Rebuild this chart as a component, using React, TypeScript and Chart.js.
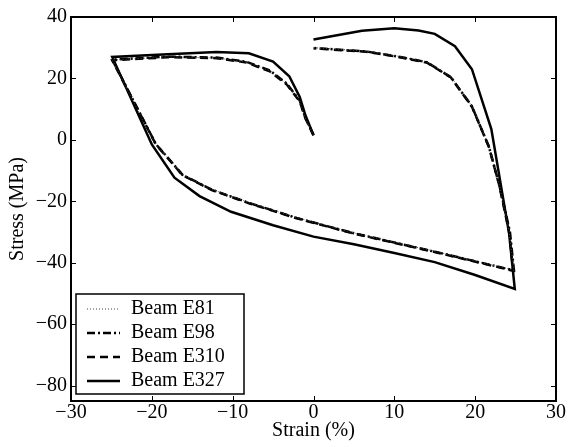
import { useEffect, useRef } from 'react';
import { Chart, registerables } from 'chart.js';

Chart.register(...registerables);

const FONT = 'Liberation Serif';

const seriesNames = ['Beam E81', 'Beam E98', 'Beam E310', 'Beam E327'];

const xTicks = [-30, -20, -10, 0, 10, 20, 30];
const yTicks = [-80, -60, -40, -20, 0, 20, 40];

// Beam E81 (dotted, mostly hidden under the other curves)
const strainE81 = [0, -1, -1.7, -3.3, -5.4, -8.3, -12, -18, -24.9, -19.6, -17.8, -16.2, -12.5, -7.9, -2.1, 0, 5, 10, 15, 19, 24.8, 24.2, 23, 21.7, 19.6, 17, 14, 10.5, 6.5, 0];
const stressE81 = [1.5, 7, 12.6, 18.2, 22.5, 25.3, 26.7, 27, 26, -1.3, -6.4, -11.3, -16.2, -20.5, -25.3, -26.8, -30.3, -33.3, -36.3, -38.8, -42.4, -29.8, -14.8, -2.1, 11, 20.5, 25.4, 27.2, 28.9, 30];

// Beam E98 (dash-dot)
const strainE98 = [0, -1, -1.7, -3.3, -5.4, -8.3, -12, -18, -24.9, -19.5, -17.8, -16.2, -12.5, -7.9, -2.1, 0, 5, 10, 15, 19, 24.8, 24.3, 23, 21.7, 19.6, 17, 14, 10.5, 6.5, 0];
const stressE98 = [1.6, 7.2, 12.8, 18.3, 22.6, 25.4, 26.8, 27.1, 26.1, -1.4, -6.5, -11.4, -16.3, -20.6, -25.4, -26.9, -30.4, -33.4, -36.4, -38.9, -42.5, -29.9, -14.9, -2.2, 10.9, 20.4, 25.3, 27.1, 28.8, 29.9];

// Beam E310 (dashed)
const strainE310 = [0, -1, -1.7, -3.3, -5.4, -8.3, -12, -18, -24.9, -19.5, -17.8, -16.2, -12.5, -7.9, -2.1, 0, 5, 10, 15, 19, 24.7, 24.2, 23, 21.7, 19.6, 17, 14, 10.5, 6.5, 0];
const stressE310 = [1.5, 7, 12.5, 18, 22.3, 25.2, 26.6, 26.9, 25.9, -1.5, -6.6, -11.5, -16.4, -20.7, -25.5, -27, -30.5, -33.5, -36.5, -39, -42.6, -30, -15, -2.3, 10.8, 20.3, 25.2, 27, 28.7, 29.8];

// Beam E327 (solid)
const strainE327 = [0, -1, -1.7, -3, -5, -8, -12, -18, -24.9, -20, -17.2, -14.1, -10.2, -5, 0, 5, 10, 15, 20, 24.9, 24.2, 22, 19.6, 17.5, 15, 13, 10, 6, 0];
const stressE327 = [1.5, 8, 14, 20.7, 25.5, 28.2, 28.6, 27.9, 27, -1.5, -12.3, -18.3, -23.4, -27.8, -31.5, -34, -36.8, -39.8, -44, -48.5, -30.5, 3.5, 23, 30.5, 34.5, 35.6, 36.3, 35.5, 32.7];

const styles = [
  { width: 1, dash: [1, 2], color: '#444' },
  { width: 2.5, dash: [8, 3, 2, 3], color: '#000' },
  { width: 2.5, dash: [8, 5], color: '#000' },
  { width: 2.5, dash: [] as number[], color: '#000' },
];

const toPts = (xs: number[], ys: number[]) => xs.map((x, i) => ({ x, y: ys[i] }));

const fmt = (v: number) => (v < 0 ? '\u2212' + String(-v) : String(v));

const framePlugin = {
  id: 'frame',
  afterDraw(chart: any) {
    const { ctx, chartArea } = chart;
    const { left, right, top, bottom } = chartArea;
    const xs = chart.scales.x;
    const ys = chart.scales.y;
    ctx.save();
    ctx.strokeStyle = '#000';
    ctx.lineWidth = 2;
    ctx.setLineDash([]);
    ctx.strokeRect(left, top, right - left, bottom - top);
    ctx.lineWidth = 1;
    const tl = 5;
    ctx.beginPath();
    xTicks.forEach((v) => {
      const px = Math.round(xs.getPixelForValue(v)) + 0.5;
      ctx.moveTo(px, bottom);
      ctx.lineTo(px, bottom - tl);
      ctx.moveTo(px, top);
      ctx.lineTo(px, top + tl);
    });
    yTicks.forEach((v) => {
      const py = Math.round(ys.getPixelForValue(v)) + 0.5;
      ctx.moveTo(left, py);
      ctx.lineTo(left + tl, py);
      ctx.moveTo(right, py);
      ctx.lineTo(right - tl, py);
    });
    ctx.stroke();

    // legend
    const bx = left + 5;
    const by = bottom - 107;
    const bw = 168;
    const bh = 100;
    ctx.fillStyle = '#fff';
    ctx.fillRect(bx, by, bw, bh);
    ctx.lineWidth = 1.5;
    ctx.strokeStyle = '#000';
    ctx.strokeRect(bx, by, bw, bh);
    ctx.font = `20px "${FONT}"`;
    ctx.textBaseline = 'middle';
    ctx.textAlign = 'left';
    seriesNames.forEach((name, i) => {
      const ry = by + 15 + 24 * i;
      const st = styles[i];
      ctx.beginPath();
      ctx.lineWidth = st.width;
      ctx.strokeStyle = st.color;
      ctx.setLineDash(st.dash);
      ctx.moveTo(bx + 11, ry);
      ctx.lineTo(bx + 44, ry);
      ctx.stroke();
      ctx.setLineDash([]);
      ctx.fillStyle = '#000';
      ctx.fillText(name, bx + 55, ry);
    });
    ctx.restore();
  },
};

export default function App() {
  const ref = useRef<HTMLCanvasElement | null>(null);
  useEffect(() => {
    if (!ref.current) return;
    const series = [
      toPts(strainE81, stressE81),
      toPts(strainE98, stressE98),
      toPts(strainE310, stressE310),
      toPts(strainE327, stressE327),
    ];
    const chart = new Chart(ref.current, {
      type: 'scatter',
      data: {
        datasets: series.map((d, i) => ({
          label: seriesNames[i],
          data: d,
          showLine: true,
          borderColor: styles[i].color,
          borderWidth: styles[i].width,
          borderDash: styles[i].dash,
          pointRadius: 0,
          pointHoverRadius: 0,
          tension: 0,
          fill: false,
        })),
      },
      options: {
        animation: false,
        responsive: false,
        events: [],
        layout: { padding: { left: 0, top: 17, right: 11, bottom: 0 } },
        plugins: { legend: { display: false }, tooltip: { enabled: false } },
        scales: {
          x: {
            type: 'linear',
            min: -30,
            max: 30,
            afterBuildTicks: (s: any) => {
              s.ticks = xTicks.map((v) => ({ value: v }));
            },
            afterFit: (s: any) => {
              s.height = 46;
            },
            grid: { display: false, drawTicks: false },
            border: { display: false },
            ticks: {
              color: '#000',
              font: { family: FONT, size: 20, lineHeight: 1 },
              padding: 2,
              maxRotation: 0,
              autoSkip: false,
              callback: (v: any) => fmt(Number(v)),
            },
            title: {
              display: true,
              text: 'Strain (%)',
              color: '#000',
              font: { family: FONT, size: 20, lineHeight: 1 },
              padding: { top: 0, bottom: 6 },
            },
          },
          y: {
            type: 'linear',
            min: -85,
            max: 40,
            afterBuildTicks: (s: any) => {
              s.ticks = yTicks.map((v) => ({ value: v }));
            },
            afterFit: (s: any) => {
              s.width = 71;
            },
            grid: { display: false, drawTicks: false },
            border: { display: false },
            ticks: {
              color: '#000',
              font: { family: FONT, size: 20, lineHeight: 1 },
              padding: 4,
              autoSkip: false,
              callback: (v: any) => fmt(Number(v)),
            },
            title: {
              display: true,
              text: 'Stress (MPa)',
              color: '#000',
              font: { family: FONT, size: 20, lineHeight: 1 },
              padding: { top: 8, bottom: 0 },
            },
          },
        },
      },
      plugins: [framePlugin],
    });
    return () => chart.destroy();
  }, []);
  return (
    <div style={{ position: 'absolute', left: 0, top: 0, width: 568, height: 447, background: '#fff' }}>
      <canvas ref={ref} width={568} height={447} style={{ display: 'block' }} />
    </div>
  );
}
